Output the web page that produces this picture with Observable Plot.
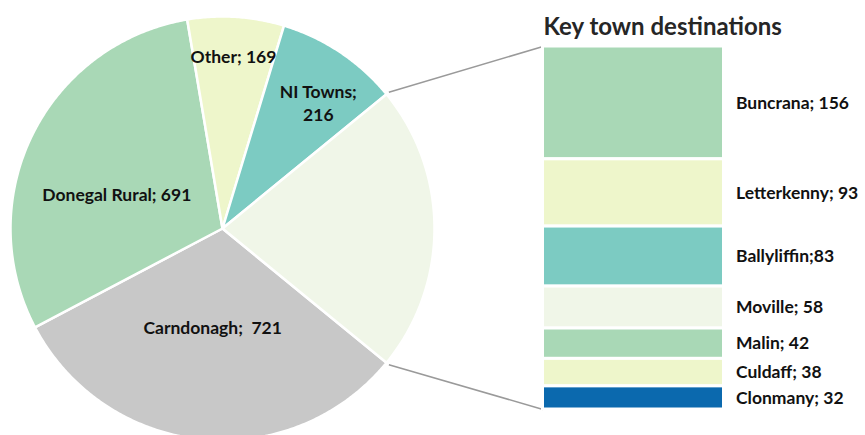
<!DOCTYPE html>
<html>
<head>
<meta charset="utf-8">
<script src="https://cdn.jsdelivr.net/npm/d3@7"></script>
<script src="https://cdn.jsdelivr.net/npm/@observablehq/plot@0.6"></script>
<style>
  html, body { margin: 0; padding: 0; background: #fff; }
  #chart { width: 865px; height: 435px; overflow: hidden; }
</style>
</head>
<body>
<div id="chart"></div>
<script>
// ---- data ----
const categories = ["Carndonagh", "Donegal Rural", "Other", "NI Towns", "Key towns"];
const categoryValues = [721, 691, 169, 216];          // key towns = sum of towns below
const pieLabels = ["Carndonagh;  721", "Donegal Rural; 691", "Other; 169", "NI Towns;\n216", ""];

const towns = ["Buncrana", "Letterkenny", "Ballyliffin", "Moville", "Malin", "Culdaff", "Clonmany"];
const townValues = [156, 93, 83, 58, 42, 38, 32];
const townLabels = ["Buncrana; 156", "Letterkenny; 93", "Ballyliffin;83", "Moville; 58", "Malin; 42", "Culdaff; 38", "Clonmany; 32"];

const title = "Key town destinations";

// ---- styling / layout ----
const W = 865, H = 435;
const cx = 222, cy = 228, R = 212;
const barX1 = 542.5, barX2 = 723.5, barTop = 46, barBottom = 409;
const pieColors = {
  "Carndonagh": "#c8c8c8",
  "Donegal Rural": "#a9d8b6",
  "Other": "#eef6cb",
  "NI Towns": "#7ccbc2",
  "Key towns": "#f0f6e8"
};
const townColors = ["#a9d8b6", "#eef6cb", "#7ccbc2", "#f0f6e8", "#a9d8b6", "#eef6cb", "#0b69ae"];
const labelLayout = {
  "Carndonagh": {f: 0.464, dx: 0, dy: 0},
  "Donegal Rural": {f: 0.53, dx: -5, dy: 15},
  "Other": {f: 0.817, dx: 0, dy: 0},
  "NI Towns": {f: 0.745, dx: 8, dy: 5}
};
const font = "Lato, 'Open Sans', sans-serif";
const labelSize = 17.5;

// ---- derived ----
const keyTotal = d3.sum(townValues);
const pieValues = [...categoryValues, keyTotal];
const total = d3.sum(pieValues);
const pieData = categories.map((c, i) => ({category: c, value: pieValues[i], label: pieLabels[i]}));

// key-towns slice centred on the right-hand side
const start = Math.PI / 2 + (keyTotal / total) * Math.PI;
const arcs = d3.pie().sort(null).value(d => d.value).startAngle(start).endAngle(start + 2 * Math.PI)(pieData);

const px = (a, r) => cx + r * Math.sin(a);
const py = (a, r) => cy - r * Math.cos(a);

const slicePts = [];
for (const a of arcs) {
  const n = Math.max(2, Math.ceil((a.endAngle - a.startAngle) / (Math.PI / 360)));
  slicePts.push({category: a.data.category, x: cx, y: cy});
  for (let k = 0; k <= n; k++) {
    const t = a.startAngle + (a.endAngle - a.startAngle) * k / n;
    slicePts.push({category: a.data.category, x: px(t, R), y: py(t, R)});
  }
  slicePts.push({category: a.data.category, x: cx, y: cy});
}

const labelData = arcs.filter(a => a.data.label).map(a => {
  const L = labelLayout[a.data.category];
  const m = (a.startAngle + a.endAngle) / 2;
  return {label: a.data.label, x: px(m, R * L.f) + L.dx, y: py(m, R * L.f) + L.dy};
});

// bar of key towns
const bs = d3.scaleLinear([0, keyTotal], [barTop, barBottom]);
let acc = 0;
const barData = towns.map((t, i) => {
  const d = {town: t, label: townLabels[i], color: townColors[i], y1: bs(acc), y2: bs(acc + townValues[i])};
  acc += townValues[i];
  return d;
});

const keyArc = arcs[arcs.length - 1];
const connectors = [
  {x1: px(keyArc.startAngle, R + 3), y1: py(keyArc.startAngle, R + 3), x2: barX1, y2: barTop},
  {x1: px(keyArc.endAngle, R + 3), y1: py(keyArc.endAngle, R + 3), x2: barX1, y2: barBottom}
];

const chart = Plot.plot({
  width: W,
  height: H,
  margin: 0,
  style: {fontFamily: font, background: "#fff"},
  x: {domain: [0, W], range: [0, W], axis: null},
  y: {domain: [0, H], range: [0, H], axis: null},
  color: {type: "identity"},
  marks: [
    Plot.line(slicePts, {
      x: "x", y: "y", z: "category",
      fill: d => pieColors[d.category],
      stroke: "#fff", strokeWidth: 2.5, strokeLinejoin: "round", curve: "linear"
    }),
    Plot.link(connectors, {x1: "x1", y1: "y1", x2: "x2", y2: "y2", stroke: "#9a9a9a", strokeWidth: 1.5}),
    Plot.rect(barData, {
      x1: () => barX1, x2: () => barX2, y1: "y1", y2: "y2",
      fill: "color", stroke: "#fff", strokeWidth: 3
    }),
    Plot.text(labelData, {
      x: "x", y: "y", text: "label", fontSize: labelSize, fontWeight: "bold",
      fill: "#111", lineHeight: 1.3, textAnchor: "middle"
    }),
    Plot.text(barData, {
      x: () => barX2 + 12, y: d => (d.y1 + d.y2) / 2, text: "label",
      fontSize: labelSize, fontWeight: "bold", fill: "#111", textAnchor: "start"
    }),
    Plot.text([title], {
      x: () => 543, y: () => 34, text: d => d, fontSize: 24, fontWeight: "bold",
      fill: "#262626", textAnchor: "start", lineAnchor: "bottom"
    })
  ]
});
document.getElementById("chart").appendChild(chart);
</script>
</body>
</html>
